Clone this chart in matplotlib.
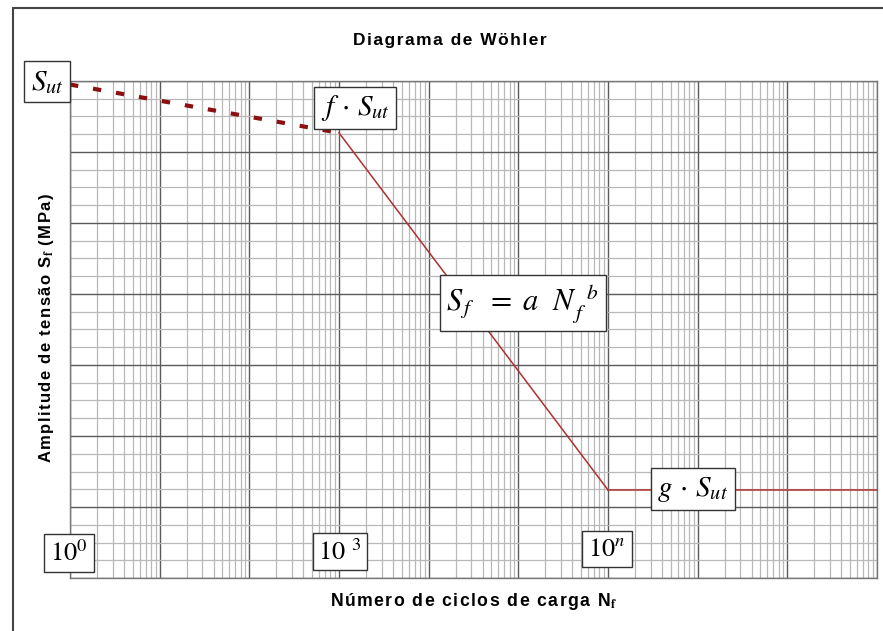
import numpy as np
import matplotlib
matplotlib.use("Agg")
import matplotlib.pyplot as plt
import matplotlib.patches as patches
from matplotlib.ticker import LogLocator, MultipleLocator, NullFormatter

plt.rcParams['font.family'] = ['Liberation Sans', 'DejaVu Sans']
plt.rcParams['mathtext.fontset'] = 'stix'

# curva de Wöhler (semi-log): trecho de baixo ciclo, trecho de Basquin e limite de fadiga
n_low = [1, 1e3]
s_low = [695, 627]
n_mid = [1e3, 1e6]
s_mid = [627, 124]
n_end = [1e6, 1e9]
s_end = [124, 124]

# rótulos em caixa: (texto, N, S, tamanho)
box_labels = [
    (r"$S_{ut}$", 0.554, 699, 21),
    (r"$f\,\cdot\,S_{ut}$", 1507, 662, 21),
    (r"$S_{\,f}\ \ =\ a\ \ N_{\,f}^{\ \ b}$", 1.127e5, 387, 22),
    (r"$g\,\cdot\,S_{ut}$", 8.87e6, 125, 21),
    (r"$10^{0}$", 0.975, 35, 19),
    (r"$10\ ^{3}$", 1026, 37, 19),
    (r"$10^{n}$", 9.75e5, 41, 19),
]


def spaced(s):
    # espaçamento extra entre letras
    return '\u200a'.join(s)


fig = plt.figure(figsize=(8.83, 6.31), dpi=100)
ax = fig.add_axes([70 / 883, 53 / 631, 807 / 883, 497 / 631])

ax.set_xscale('log')
ax.set_xlim(1, 1e9)
ax.set_ylim(0, 700)

ax.xaxis.set_major_locator(LogLocator(base=10, numticks=20))
ax.xaxis.set_minor_locator(LogLocator(base=10, subs=np.arange(2, 10), numticks=200))
ax.yaxis.set_major_locator(MultipleLocator(100))
ax.yaxis.set_minor_locator(MultipleLocator(25))
ax.xaxis.set_major_formatter(NullFormatter())
ax.xaxis.set_minor_formatter(NullFormatter())
ax.yaxis.set_major_formatter(NullFormatter())
ax.tick_params(which='both', length=0)

ax.grid(which='major', color='#5a5a5a', linewidth=1.0)
ax.grid(which='minor', color='#b8b8b8', linewidth=0.9)
ax.set_axisbelow(True)
for sp in ax.spines.values():
    sp.set_color('#777777')
    sp.set_linewidth(1.0)

ax.plot(n_low, s_low, color='#8b1010', linewidth=3, linestyle=(0, (2.0, 3.6)), zorder=3)
ax.plot(n_mid, s_mid, color='#b03030', linewidth=1.1, zorder=3)
ax.plot(n_end, s_end, color='#b03030', linewidth=1.1, zorder=3, clip_on=False)

for txt, xv, yv, fs in box_labels:
    ax.text(xv, yv, txt, fontsize=fs, ha='center', va='center', zorder=5, clip_on=False,
            bbox=dict(boxstyle='square,pad=0.22', facecolor='white', edgecolor='#333333', linewidth=1.0))

fig.text(450 / 883, 1 - 40 / 631, spaced('Diagrama de Wöhler'), fontsize=12.5, fontweight='bold',
         ha='center', va='center')
fig.text(474 / 883, 1 - 601 / 631, spaced('Número de ciclos de carga N') + r'$_{\mathbf{f}}$',
         fontsize=12.7, fontweight='bold', ha='center', va='center')
fig.text(47 / 883, 1 - 328 / 631, spaced('Amplitude de tensão S') + r'$_{\mathbf{f}}$' + spaced(' (MPa)'),
         fontsize=12, fontweight='bold', ha='center', va='center', rotation=90)

# moldura externa
fig.patches.append(patches.Rectangle((13 / 883, -0.05), 1.0, 1 - 8 / 631 + 0.05,
                                     transform=fig.transFigure, fill=False,
                                     edgecolor='#444444', linewidth=1.5))

fig.savefig('out.png', dpi=100)
